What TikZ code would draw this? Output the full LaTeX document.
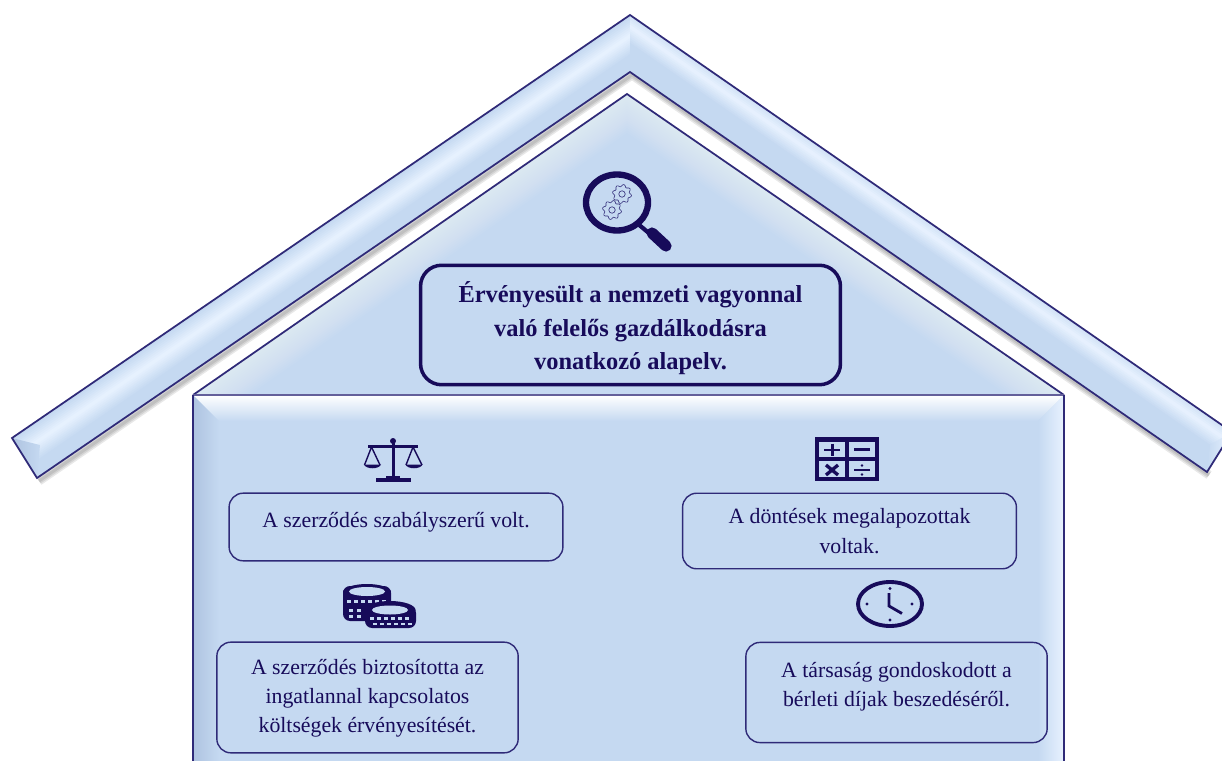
\documentclass[tikz,border=0pt]{standalone}
\usepackage{fontspec}
\setmainfont{Liberation Serif}
\usetikzlibrary{calc}

\definecolor{navy}{HTML}{170B5A}
\definecolor{edgeblue}{HTML}{2F2A78}
\definecolor{baseblue}{HTML}{C5D9F1}
\definecolor{glowblue}{HTML}{E8F2FF}
\definecolor{shadeblue}{HTML}{AEC3E0}

% one arm of the roof, #1 = start of the arm, #2 = glow position, #3 = glow width
\newcommand{\roofarm}[3]{
	\foreach \t in {0,0.04,...,1.0}{
		\pgfmathsetmacro{\glow}{100*max(0,1-abs(\t-#2)/#3)}
		\draw[line width=1.7pt,color=glowblue!\glow!baseblue,shorten <=-12pt,shorten >=-12pt]
			($(#1O)!\t!(#1I)$) -- ($(apexO)!\t!(apexI)$);
	}
}
% small gear of the magnifier
\newcommand{\geariconat}[3]{
	\draw[edgeblue,line width=.35pt] plot[domain=0:360,samples=81] ({#1+(#3+.13*#3*sin(8*\x))*cos(\x)},{#2+(#3+.13*#3*sin(8*\x))*sin(\x)});
	\draw[edgeblue,line width=.35pt] (#1,#2) circle ({.38*#3});
}

\begin{document}
\begin{tikzpicture}[x=0.02cm,y=-0.02cm]
	\tikzstyle{infobox}=[draw=edgeblue,rounded corners=8pt,line width=.8pt,align=center,text=navy,
		font=\fontsize{12.4}{16.7}\selectfont,inner sep=0pt,minimum height=10pt]
	\tikzstyle{mainbox}=[draw=navy,rounded corners=12pt,line width=2pt,align=center,text=navy,
		font=\fontsize{13.9}{19}\selectfont\bfseries,inner sep=0pt]
	\tikzstyle{outline}=[draw=edgeblue,line width=1pt,line join=miter]
	\tikzstyle{iconline}=[navy,line cap=butt]
	\useasboundingbox (0,0) rectangle (1222,760);
	\clip (0,0) rectangle (1222,760);

	\coordinate (leftO) at (12,438);
	\coordinate (leftI) at (37,478);
	\coordinate (apexO) at (630,15);
	\coordinate (apexI) at (630,72);
	\coordinate (rightO) at (1232,432);
	\coordinate (rightI) at (1207,472);
	\coordinate (gableL) at (193,395);
	\coordinate (gableT) at (627,94);
	\coordinate (gableR) at (1064,395);
	\coordinate (wallL) at (193,770);
	\coordinate (wallR) at (1064,770);

	% shadow under the roof
	\foreach \w in {9,6,3}{
		\draw[black,opacity=.09,line width=\w*.567pt] ([shift={(2,3)}]leftI) -- ([shift={(2,3)}]apexI) -- ([shift={(2,3)}]rightI);
	}

	% roof
	\begin{scope}
		\clip (leftO) -- (apexO) -- (apexI) -- (leftI) -- cycle;
		\fill[baseblue] (leftO) -- (apexO) -- (apexI) -- (leftI) -- cycle;
		\roofarm{left}{0.38}{0.34}
	\end{scope}
	\begin{scope}
		\clip (rightO) -- (apexO) -- (apexI) -- (rightI) -- cycle;
		\fill[baseblue] (rightO) -- (apexO) -- (apexI) -- (rightI) -- cycle;
		\roofarm{right}{0.22}{0.3}
	\end{scope}
	\shade[left color=shadeblue,right color=baseblue] (leftO) -- (40,445) -- (leftI) -- cycle;
	\shade[left color=baseblue,right color=glowblue] (rightI) -- (1210,445) -- (rightO) -- cycle;
	\draw[outline] (leftO) -- (apexO) -- (rightO) -- (rightI) -- (apexI) -- (leftI) -- cycle;

	% gable
	\begin{scope}
		\clip (gableL) -- (gableT) -- (gableR) -- cycle;
		\fill[baseblue] (gableL) -- (gableT) -- (gableR) -- cycle;
		\foreach \w in {64,60,...,4}{
			\draw[white,opacity=.045,line width=\w*.567pt] (gableL) -- (gableT) -- (gableR);
		}
	\end{scope}
	\draw[outline] (gableL) -- (gableT) -- (gableR);

	% walls
	\fill[baseblue] (gableL) rectangle (wallR);
	\shade[top color=white,bottom color=baseblue] (gableL) -- (gableR) -- (1038,421) -- (219,421) -- cycle;
	\shade[left color=shadeblue,right color=baseblue] (gableL) -- (219,421) -- (219,770) -- (wallL) -- cycle;
	\shade[left color=baseblue,right color=glowblue] (gableR) -- (1038,421) -- (1038,770) -- (wallR) -- cycle;
	\draw[outline,draw=edgeblue!75] (gableL) -- (gableR);
	\draw[outline] (wallL) -- (gableL);
	\draw[outline] (wallR) -- (gableR);

	% text boxes
	\node[mainbox,minimum width=239pt,minimum height=68pt,text depth=0pt,text height=50.8pt] (alapelv) at (630.5,325)
		{Érvényesült a nemzeti vagyonnal\\való felelős gazdálkodásra\\vonatkozó alapelv.};
	\node[infobox,minimum width=190pt,minimum height=38.5pt,text depth=8pt] (szerzodes) at (396,527)
		{A szerződés szabályszerű volt.};
	\node[infobox,minimum width=190pt,minimum height=43pt,text depth=0pt] (dontesek) at (849.5,531)
		{A döntések megalapozottak\\voltak.};
	\node[infobox,minimum width=171.5pt,minimum height=63pt,text depth=1.8pt] (koltsegek) at (367.5,697.5)
		{A szerződés biztosította az\\ingatlannal kapcsolatos\\költségek érvényesítését.};
	\node[infobox,minimum width=171.5pt,minimum height=57pt,text depth=9pt] (berleti) at (896.5,692.5)
		{A társaság gondoskodott a\\bérleti díjak beszedéséről.};

	% magnifier
	\draw[navy,line width=3.6pt] (617,202.5) ellipse (31 and 28);
	\draw[navy,line width=2.4pt] (638,224) -- (650,234);
	\draw[navy,line width=6.4pt,line cap=round] (652,233) -- (666,246);
	\geariconat{622}{194}{8.5}
	\geariconat{612}{210}{8.5}

	% scales
	\fill[navy] (391.5,441) rectangle (395,479);
	\fill[navy] (393,441) circle (3);
	\fill[navy] (368,445) rectangle (418,448);
	\fill[navy] (376,478) rectangle (411,481.5);
	\fill[navy] (386,476) rectangle (400,479);
	\draw[navy,line width=.8pt] (364.5,465) -- (371.5,447) -- (380,465);
	\draw[navy,line width=.8pt] (406,465) -- (413,447) -- (422,465);
	\fill[navy] (364,464.5) -- (381,464.5) .. controls (379,469.5) and (366,469.5) .. (364,464.5);
	\fill[navy] (405.5,464.5) -- (422.5,464.5) .. controls (420.5,469.5) and (407.5,469.5) .. (405.5,464.5);

	% calculator
	\draw[navy,line width=2.8pt] (817,439.5) rectangle (877,479);
	\draw[navy,line width=2.8pt] (847,439) -- (847,479);
	\draw[navy,line width=2.8pt] (817,459) -- (877,459);
	\draw[iconline,line width=1.7pt] (824,450) -- (840,450);
	\draw[iconline,line width=1.7pt] (832,443.5) -- (832,456);
	\draw[iconline,line width=1.7pt] (854,449.5) -- (870,449.5);
	\draw[iconline,line width=1.9pt] (826,465) -- (838,475);
	\draw[iconline,line width=1.9pt] (838,465) -- (826,475);
	\draw[iconline,line width=1pt] (854,470) -- (870,470);
	\fill[navy] (862,465.5) circle (1.4);
	\fill[navy] (862,474.5) circle (1.4);

	% coins
	\fill[navy,rounded corners=4pt] (343,586) rectangle (391,621);
	\fill[navy] (367,592) ellipse (24 and 8);
	\fill[baseblue] (367,591.5) ellipse (18 and 4.5);
	\foreach \x in {347,354,361,368,375,382}{
		\fill[baseblue] (\x,600) rectangle ++(3.6,3);
	}
	\foreach \x in {349,357}{
		\fill[baseblue] (\x,608.5) rectangle ++(3.6,3);
		\fill[baseblue] (\x,615) rectangle ++(3.6,2.6);
	}
	\fill[navy,rounded corners=4pt] (365,606) rectangle (416,628);
	\fill[navy] (390,610) ellipse (25.5 and 9);
	\fill[baseblue] (390,610) ellipse (18 and 4.5);
	\foreach \x in {370,377,384,391,398,405}{
		\fill[baseblue] (\x,617) rectangle ++(3.6,3);
		\fill[baseblue] (\x+3,622.5) rectangle ++(3.6,2.6);
	}

	% clock
	\draw[navy,line width=2.2pt] (890,604) ellipse (32 and 22);
	\fill[navy] (890,588.5) circle (1.6);
	\fill[navy] (890,620) circle (1.6);
	\fill[navy] (867,604) circle (1.6);
	\fill[navy] (912,604) circle (1.6);
	\draw[navy,line width=1.6pt,line join=miter] (889,593) -- (889,606) -- (902,613.5);
\end{tikzpicture}
\end{document}
